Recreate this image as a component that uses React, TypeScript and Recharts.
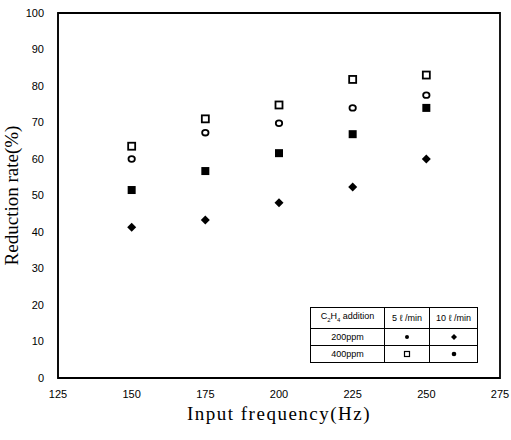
import React from "react";
import { ScatterChart, Scatter, XAxis, YAxis, ReferenceArea } from "recharts";

const frequencies = [150, 175, 200, 225, 250];
const openSquare = [63.5, 71, 74.8, 81.8, 83];
const openCircle = [60, 67.2, 69.8, 74, 77.5];
const filledSquare = [51.5, 56.7, 61.6, 66.8, 74];
const filledDiamond = [41.3, 43.3, 48, 52.3, 60];
const xTicks = [125, 150, 175, 200, 225, 250, 275];
const yTicks = [0, 10, 20, 30, 40, 50, 60, 70, 80, 90, 100];

const toPts = (ys: number[]) => frequencies.map((x, i) => ({ x, y: ys[i] }));

const OpenSquare = (p: any) => (
  <rect x={p.cx - 3.5} y={p.cy - 3.5} width={7} height={7} fill="#fff" stroke="#000" strokeWidth={1.8} />
);
const OpenCircle = (p: any) => (
  <ellipse cx={p.cx} cy={p.cy} rx={3.2} ry={2.8} fill="#fff" stroke="#000" strokeWidth={1.8} />
);
const FilledSquare = (p: any) => (
  <rect x={p.cx - 4} y={p.cy - 4} width={8} height={8} fill="#000" />
);
const FilledDiamond = (p: any) => (
  <path d={`M${p.cx},${p.cy - 4.5}L${p.cx + 4.5},${p.cy}L${p.cx},${p.cy + 4.5}L${p.cx - 4.5},${p.cy}Z`} fill="#000" />
);

const sans = "'Liberation Sans', Arial, sans-serif";
const serif = "'Liberation Serif', 'Times New Roman', serif";

const cell: React.CSSProperties = {
  border: "1px solid #000",
  padding: 0,
  height: 16,
  textAlign: "center",
  fontSize: 9,
  fontFamily: sans,
  lineHeight: "16px",
};

export default function App() {
  return (
    <div style={{ position: "absolute", left: 0, top: 0, width: 511, height: 440, background: "#fff" }}>
      <ScatterChart width={511} height={440} margin={{ top: 13, right: 11, bottom: 0, left: 10 }}>
        <XAxis
          type="number"
          dataKey="x"
          domain={[125, 275]}
          ticks={xTicks}
          tickLine={false}
          axisLine={{ stroke: "#000", strokeWidth: 1.5 }}
          tick={{ fill: "#000", fontSize: 11, fontFamily: sans }}
          height={62}
          tickMargin={6}
          label={{ value: "Input  frequency(Hz)", position: "insideBottom", offset: 20, fill: "#000", fontSize: 19, fontFamily: serif, style: { letterSpacing: 1.5, whiteSpace: "pre" } }}
        />
        <YAxis
          type="number"
          dataKey="y"
          domain={[0, 100]}
          ticks={yTicks}
          tickLine={false}
          axisLine={{ stroke: "#000", strokeWidth: 1 }}
          tick={{ fill: "#000", fontSize: 11, fontFamily: sans }}
          width={48}
          tickMargin={8}
          label={{ value: "Reduction  rate(%)", angle: -90, position: "insideLeft", offset: 1, fill: "#000", fontSize: 19, fontFamily: serif, style: { textAnchor: "middle", whiteSpace: "pre" } }}
        />
        <ReferenceArea x1={125} x2={275} y1={0} y2={100} fill="none" fillOpacity={0} stroke="#000" strokeWidth={1.8} ifOverflow="visible" />
        <Scatter data={toPts(openSquare)} shape={OpenSquare} isAnimationActive={false} />
        <Scatter data={toPts(openCircle)} shape={OpenCircle} isAnimationActive={false} />
        <Scatter data={toPts(filledSquare)} shape={FilledSquare} isAnimationActive={false} />
        <Scatter data={toPts(filledDiamond)} shape={FilledDiamond} isAnimationActive={false} />
      </ScatterChart>
      <table
        style={{
          position: "absolute",
          left: 310,
          top: 307,
          width: 168,
          borderCollapse: "collapse",
          border: "1.5px solid #000",
          background: "#fff",
        }}
      >
        <tbody>
          <tr>
            <td style={{ ...cell, width: 73 }}>
              C<sub style={{ fontSize: 6 }}>2</sub>H<sub style={{ fontSize: 6 }}>4</sub> addition
            </td>
            <td style={{ ...cell, width: 44 }}>5 ℓ /min</td>
            <td style={cell}>10 ℓ /min</td>
          </tr>
          <tr>
            <td style={cell}>200ppm</td>
            <td style={cell}>
              <svg width="8" height="8" style={{ verticalAlign: "middle" }}><circle cx="4" cy="4" r="2" fill="#000" /></svg>
            </td>
            <td style={cell}>
              <svg width="8" height="8" style={{ verticalAlign: "middle" }}><path d="M4,1L7,4L4,7L1,4Z" fill="#000" /></svg>
            </td>
          </tr>
          <tr>
            <td style={cell}>400ppm</td>
            <td style={cell}>
              <svg width="8" height="8" style={{ verticalAlign: "middle" }}><rect x="1.5" y="1.5" width="5" height="5" fill="#fff" stroke="#000" strokeWidth="1.2" /></svg>
            </td>
            <td style={cell}>
              <svg width="8" height="8" style={{ verticalAlign: "middle" }}><circle cx="4" cy="4" r="2.3" fill="#000" /></svg>
            </td>
          </tr>
        </tbody>
      </table>
    </div>
  );
}
